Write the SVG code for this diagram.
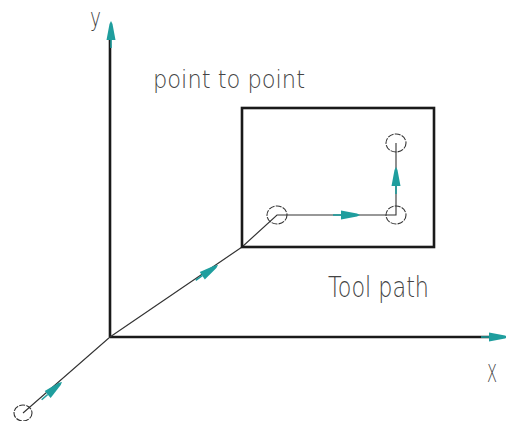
<svg xmlns="http://www.w3.org/2000/svg" width="506" height="421" viewBox="0 0 506 421">
<style>
.axis{stroke:#1a1a1a;stroke-width:2.6;fill:none}
.box{stroke:#1a1a1a;stroke-width:2.6;fill:none}
.path{stroke:#333;stroke-width:1.1;fill:none}
.pt{stroke:#333;stroke-width:1.1;fill:none;stroke-dasharray:6 1.2}
.lbl{font-family:"DejaVu Sans","Liberation Sans",Arial,sans-serif;font-weight:200;fill:#444;font-size:25px}
</style>
<defs>
<g id="ah">
<path d="M0,0 L-3,-1.5 L-19,-4.5 L-19,4.5 L-3,1.5 Z" fill="#1f9e9e"/>
<path d="M-19,0 L-27,0" stroke="#1f9e9e" stroke-width="1.6"/>
</g>
</defs>
<rect width="506" height="421" fill="#fff"/>
<g id="connectors">
<path class="axis" d="M110,337 L110,40"/>
<path class="axis" d="M110,337 L490,337"/>
<path class="path" d="M23,413 L110,337 L242,247 L277,215 L396,215 L396,143"/>
</g>
<g id="box"><rect class="box" x="242" y="108" width="192" height="139"/></g>
<g id="p0"><ellipse class="pt" cx="23" cy="413" rx="9" ry="8"/></g>
<g id="p1"><ellipse class="pt" cx="277" cy="215" rx="10" ry="9"/></g>
<g id="p2"><ellipse class="pt" cx="396" cy="215" rx="10" ry="9"/></g>
<g id="p3"><ellipse class="pt" cx="396" cy="143" rx="10" ry="9"/></g>
<g id="arrows">
<use href="#ah" transform="translate(111,21) rotate(-90)"/>
<use href="#ah" transform="translate(508,337)"/>
<use href="#ah" transform="translate(360,215)"/>
<use href="#ah" transform="translate(396,167) rotate(-90)"/>
<use href="#ah" transform="translate(218,265) rotate(-34.3)"/>
<use href="#ah" transform="translate(62,382) rotate(-41.1)"/>
</g>
<g id="labels">
<text class="lbl" x="90" y="26" textLength="11" lengthAdjust="spacingAndGlyphs">y</text>
<text class="lbl" x="153" y="88" textLength="152" lengthAdjust="spacingAndGlyphs">point to point</text>
<text class="lbl" x="328" y="297" textLength="101" lengthAdjust="spacingAndGlyphs" style="font-size:28px">Tool path</text>
<text class="lbl" x="487" y="382" textLength="10" lengthAdjust="spacingAndGlyphs">X</text>
</g>
</svg>
